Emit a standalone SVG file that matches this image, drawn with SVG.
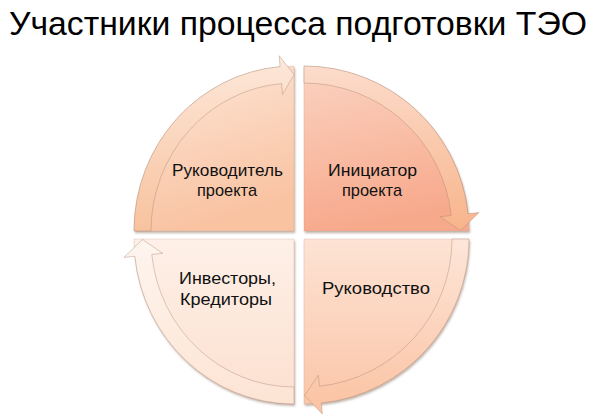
<svg xmlns="http://www.w3.org/2000/svg" width="600" height="418" viewBox="0 0 600 418">
<style>
  .title { font-family: "Liberation Sans", "Open Sans", sans-serif; font-size: 34px; fill: #000; }
  .lbl { font-family: "Liberation Sans", "Open Sans", sans-serif; font-size: 17px; fill: #111; text-anchor: middle; }
  .quad { stroke: #b89480; stroke-opacity: 0.3; stroke-width: 0.8; filter: url(#shadow); }
  .arrow { stroke: #a88470; stroke-opacity: 0.45; stroke-width: 0.9; }
</style>
<defs>
  <filter id="shadow" x="-10%" y="-10%" width="125%" height="125%">
    <feGaussianBlur in="SourceAlpha" stdDeviation="1.3"/>
    <feOffset dx="1" dy="1.6" result="b"/>
    <feFlood flood-color="#7a5a48" flood-opacity="0.45"/>
    <feComposite in2="b" operator="in" result="s"/>
    <feMerge><feMergeNode in="s"/><feMergeNode in="SourceGraphic"/></feMerge>
  </filter>
  <linearGradient id="gTL" x1="0" y1="0" x2="0.3" y2="1">
    <stop offset="0" stop-color="#fde6d7"/><stop offset="1" stop-color="#f9c3a2"/>
  </linearGradient>
  <linearGradient id="gTR" x1="0" y1="0" x2="0.2" y2="1">
    <stop offset="0" stop-color="#fbd3c1"/><stop offset="1" stop-color="#f7a98c"/>
  </linearGradient>
  <linearGradient id="gBR" x1="0" y1="0" x2="0" y2="1">
    <stop offset="0" stop-color="#fde3d4"/><stop offset="1" stop-color="#fbc6a9"/>
  </linearGradient>
  <linearGradient id="gBL" x1="0" y1="0" x2="0" y2="1">
    <stop offset="0" stop-color="#fef0e8"/><stop offset="1" stop-color="#fce0cf"/>
  </linearGradient>
  <linearGradient id="aTL" x1="0" y1="0" x2="0" y2="1">
    <stop offset="0" stop-color="#fde8da"/><stop offset="1" stop-color="#f8c29e"/>
  </linearGradient>
  <linearGradient id="aTR" x1="0" y1="0" x2="0" y2="1">
    <stop offset="0" stop-color="#fcdccb"/><stop offset="1" stop-color="#f8b48b"/>
  </linearGradient>
  <linearGradient id="aBR" x1="0" y1="0" x2="0" y2="1">
    <stop offset="0" stop-color="#fde6d9"/><stop offset="1" stop-color="#fbc2a2"/>
  </linearGradient>
  <linearGradient id="aBL" x1="0" y1="0" x2="0" y2="1">
    <stop offset="0" stop-color="#fef5ef"/><stop offset="1" stop-color="#fde4d4"/>
  </linearGradient>
</defs>
<rect width="600" height="418" fill="#ffffff"/>
<text class="title" x="9" y="35" textLength="578" lengthAdjust="spacingAndGlyphs">Участники процесса подготовки ТЭО</text>

<g id="node-tl">
  <path class="quad" fill="url(#gTL)" d="M294,231 L134,231 A160,165 0 0 1 294,66 Z"/>
  <text class="lbl" x="227.5" y="176" textLength="111" lengthAdjust="spacingAndGlyphs">Руководитель</text>
  <text class="lbl" x="227" y="196" textLength="60" lengthAdjust="spacingAndGlyphs">проекта</text>
</g>
<g id="node-tr">
  <path class="quad" fill="url(#gTR)" d="M304,231 L304,66 A165,165 0 0 1 469,231 Z"/>
  <text class="lbl" x="372.5" y="176" textLength="89" lengthAdjust="spacingAndGlyphs">Инициатор</text>
  <text class="lbl" x="372" y="196" textLength="60" lengthAdjust="spacingAndGlyphs">проекта</text>
</g>
<g id="node-br">
  <path class="quad" fill="url(#gBR)" d="M304,239 L469,239 A165,165 0 0 1 304,404 Z"/>
  <text class="lbl" x="376" y="294" textLength="108" lengthAdjust="spacingAndGlyphs">Руководство</text>
</g>
<g id="node-bl">
  <path class="quad" fill="url(#gBL)" d="M294,239 L294,404 A160,165 0 0 1 134,239 Z"/>
  <text class="lbl" x="227.5" y="284" textLength="97" lengthAdjust="spacingAndGlyphs">Инвесторы,</text>
  <text class="lbl" x="226" y="305" textLength="92" lengthAdjust="spacingAndGlyphs">Кредиторы</text>
</g>

<g id="connectors">
  <path class="arrow" fill="url(#aTL)" d="M134,231 A160,165 0 0 1 280.05,66.63 L279.10,55.67 L294,74.5 L282.50,94.52 L281.54,83.56 A143,148 0 0 0 151,231 Z"/>
  <path class="arrow" fill="url(#aTR)" d="M304,66 A165,165 0 0 1 468.10,213.75 L479.04,212.60 L460.5,230.5 L440.25,216.68 L451.19,215.53 A148,148 0 0 0 304,83 Z"/>
  <path class="arrow" fill="url(#aBR)" d="M469,239 A165,165 0 0 1 321.25,403.10 L322.40,414.04 L304.5,395.5 L318.32,375.25 L319.47,386.19 A148,148 0 0 0 452,239 Z"/>
  <path class="arrow" fill="url(#aBL)" d="M294,404 A160,165 0 0 1 134.88,256.25 L123.94,257.40 L142.5,239.5 L162.72,253.32 L151.78,254.47 A143,148 0 0 0 294,387 Z"/>
</g>
</svg>
